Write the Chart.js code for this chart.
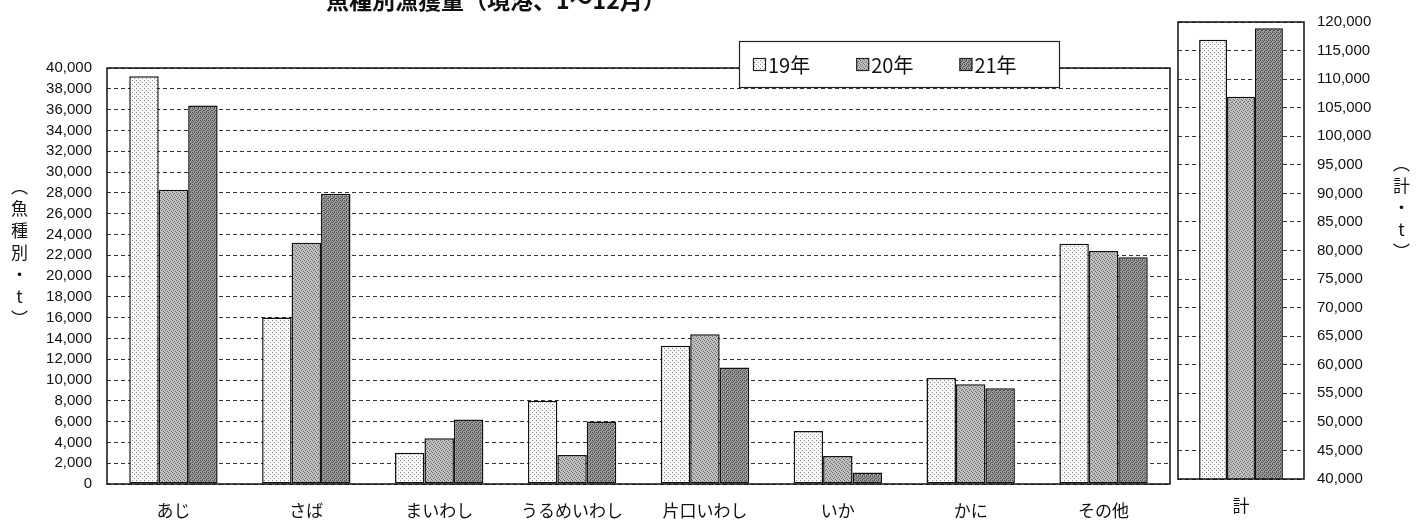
<!DOCTYPE html>
<html lang="ja">
<head>
<meta charset="utf-8">
<script src="https://cdn.jsdelivr.net/npm/chart.js@4.4.1/dist/chart.umd.min.js"></script>
<style>
html, body { margin: 0; padding: 0; background: #fff; overflow: hidden; }
#wrap { position: relative; width: 1427px; height: 523px; }
#title { position: absolute; left: 326px; top: -12px; font: bold 23px "Noto Sans CJK JP"; line-height: 23px; white-space: nowrap; color: #111; }
.vt { position: absolute; writing-mode: vertical-rl; text-orientation: upright; font: 17px "Noto Sans CJK JP"; line-height: 1; letter-spacing: 5px; color: #111; }
#main { position: absolute; left: 0; top: 0; }
#total { position: absolute; left: 1174px; top: 0; }
</style>
</head>
<body>
<div id="wrap">
  <canvas id="main" width="1174" height="523"></canvas>
  <canvas id="total" width="253" height="523"></canvas>
  <div id="title">魚種別漁獲量（境港、1～12月）</div>
  <div class="vt" style="left:11px; top:178px;">（魚種別・t）</div>
  <div class="vt" style="left:1393px; top:155px;">（計・t）</div>
</div>
<script>
// データ（単位: t）
const categories = ['あじ', 'さば', 'まいわし', 'うるめいわし', '片口いわし', 'いか', 'かに', 'その他'];
const years = ['19年', '20年', '21年'];
const catch19 = [39200, 16000, 3000, 8000, 13300, 5100, 10200, 23100];
const catch20 = [28300, 23200, 4400, 2800, 14400, 2700, 9600, 22400];
const catch21 = [36400, 27900, 6200, 6000, 11200, 1100, 9200, 21800];

const totalCategory = ['計'];
const total19 = [116900];
const total20 = [106900];
const total21 = [118900];

const leftAxis = { min: 0, max: 40000, step: 2000 };
const rightAxis = { min: 40000, max: 120000, step: 5000 };

// 網掛けパターン
const tiles = [
  { base: '#fbfbfb', dot: '#8a8a8a', rows: ['1000', '0000', '0010', '0000'] },
  { base: '#c2c2c2', dot: '#6a6a6a', rows: ['1000', '0010', '0100', '0001'] },
  { base: '#a0a0a0', dot: '#505050', rows: ['1010', '0100', '1001', '0010'] }
];

function makePattern(ctx, t) {
  const n = t.rows.length;
  const c = document.createElement('canvas');
  c.width = c.height = n;
  const g = c.getContext('2d');
  g.fillStyle = t.base;
  g.fillRect(0, 0, n, n);
  g.fillStyle = t.dot;
  t.rows.forEach((row, j) => [...row].forEach((ch, i) => { if (ch === '1') g.fillRect(i, j, 1, 1); }));
  return ctx.createPattern(c, 'repeat');
}

const fmt = v => Number(v).toLocaleString('en-US');
const tickFont = { family: 'Liberation Sans', size: 15 };
const catFont = { family: 'Noto Sans CJK JP', size: 17 };

// 枠線
const frame = {
  id: 'frame',
  afterDatasetsDraw(chart) {
    const { ctx, chartArea: a } = chart;
    ctx.save();
    ctx.strokeStyle = '#111';
    ctx.lineWidth = 1.5;
    ctx.strokeRect(a.left, a.top, a.right - a.left, a.bottom - a.top);
    ctx.restore();
  }
};

// 凡例（枠付き）
const legendBox = {
  id: 'legendBox',
  afterDraw(chart) {
    const ctx = chart.ctx;
    const x = 739, y = 41, w = 320, h = 46;
    ctx.save();
    ctx.fillStyle = '#fff';
    ctx.fillRect(x, y, w, h);
    ctx.strokeStyle = '#222';
    ctx.lineWidth = 1.2;
    ctx.strokeRect(x + 0.5, y + 0.5, w, h);
    ctx.font = '20px "Noto Sans CJK JP"';
    ctx.textBaseline = 'middle';
    let cx = x + 14;
    const cy = y + h / 2;
    chart.data.datasets.forEach(ds => {
      ctx.fillStyle = ds.backgroundColor;
      ctx.fillRect(cx, cy - 6, 13, 13);
      ctx.lineWidth = 1.2;
      ctx.strokeRect(cx + 0.5, cy - 5.5, 12, 12);
      ctx.fillStyle = '#111';
      ctx.fillText(ds.label, cx + 15, cy + 1);
      cx += 15 + ctx.measureText(ds.label).width + 46;
    });
    ctx.restore();
  }
};

function datasets(ctx, series) {
  return series.map((data, i) => ({
    label: years[i],
    data: data,
    backgroundColor: makePattern(ctx, tiles[i]),
    borderColor: '#111',
    borderWidth: 1.5,
    borderSkipped: false,
    barPercentage: 1.0,
    categoryPercentage: 0.665
  }));
}

function yScale(range, position, width, pad) {
  return {
    position: position,
    min: range.min,
    max: range.max,
    afterFit: s => { s.width = width; },
    ticks: { stepSize: range.step, autoSkip: false, padding: pad, color: '#111', font: tickFont, callback: fmt },
    grid: { color: '#333', lineWidth: 1, drawTicks: false },
    border: { display: false, dash: [4, 3] }
  };
}

const mainCtx = document.getElementById('main').getContext('2d');
new Chart(mainCtx, {
  type: 'bar',
  data: { labels: categories, datasets: datasets(mainCtx, [catch19, catch20, catch21]) },
  options: {
    responsive: false, animation: false, devicePixelRatio: 1,
    layout: { padding: { top: 68, right: 4, left: 0, bottom: 0 } },
    scales: {
      x: {
        afterFit: s => { s.height = 39; },
        ticks: { color: '#111', font: catFont, padding: 8 },
        grid: { display: false },
        border: { display: false }
      },
      y: yScale(leftAxis, 'left', 107, 15)
    },
    plugins: { legend: { display: false }, tooltip: { enabled: false } }
  },
  plugins: [frame, legendBox]
});

const totalCtx = document.getElementById('total').getContext('2d');
new Chart(totalCtx, {
  type: 'bar',
  data: { labels: totalCategory, datasets: datasets(totalCtx, [total19, total20, total21]) },
  options: {
    responsive: false, animation: false, devicePixelRatio: 1,
    layout: { padding: { top: 15, right: 0, left: 4, bottom: 0 } },
    scales: {
      x: {
        afterFit: s => { s.height = 44; },
        ticks: { color: '#111', font: catFont, padding: 8 },
        grid: { display: false },
        border: { display: false }
      },
      y: yScale(rightAxis, 'right', 123, 13)
    },
    plugins: { legend: { display: false }, tooltip: { enabled: false } }
  },
  plugins: [frame]
});
</script>
</body>
</html>
